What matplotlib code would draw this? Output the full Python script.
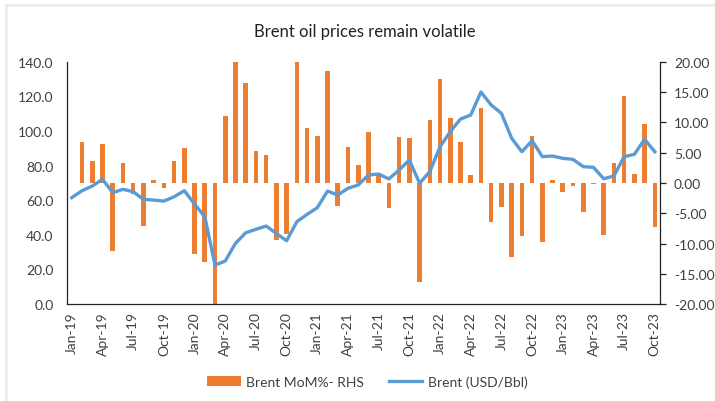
import matplotlib
matplotlib.use("Agg")
import matplotlib.pyplot as plt
from matplotlib.lines import Line2D
from matplotlib.patches import Patch

plt.rcParams['font.family'] = ['Lato', 'DejaVu Sans']

months = ["Jan", "Feb", "Mar", "Apr", "May", "Jun", "Jul", "Aug", "Sep", "Oct", "Nov", "Dec"]
categories = [f"{m}-{y}" for y in range(19, 24) for m in months][:58]

brent_mom = [0, 6.7, 3.6, 6.5, -11.3, 3.3, -1.9, -7.1, 0.5, -0.8,
             3.6, 5.7, -11.7, -13.0, -20.0, 11.1, 20.0, 16.5, 5.3, 4.6,
             -9.4, -8.4, 20.0, 9.0, 7.8, 18.4, -3.8, 5.9, 3.0, 8.4,
             1.6, -4.2, 7.6, 7.4, -16.3, 10.3, 17.2, 10.7, 6.8, 1.3,
             12.4, -6.5, -4.0, -12.3, -8.8, 7.8, -9.8, 0.5, -1.5, -0.5,
             -4.8, -0.2, -8.6, 3.3, 14.3, 1.5, 9.7, -7.2]

brent_usd = [61.5, 65.5, 68.2, 72.1, 64.4, 66.3, 64.9, 60.5, 60.1, 59.5,
             62.0, 65.5, 57.8, 50.5, 22.5, 24.9, 35.1, 41.2, 43.2, 45.1,
             40.8, 36.6, 47.6, 51.8, 55.7, 65.3, 63.0, 66.9, 68.8, 74.6,
             75.1, 72.3, 77.5, 83.2, 69.8, 76.5, 90.9, 99.6, 106.9, 109.2,
             122.5, 115.0, 110.2, 95.8, 88.0, 94.4, 85.2, 85.5, 84.2, 83.6,
             79.4, 79.0, 72.4, 74.0, 85.2, 86.5, 95.2, 88.0]

left_ticks = [0, 20, 40, 60, 80, 100, 120, 140]
right_ticks = [-20, -15, -10, -5, 0, 5, 10, 15, 20]

title = "Brent oil prices remain volatile"
bar_label = "Brent MoM%- RHS"
line_label = "Brent (USD/Bbl)"

ORANGE = "#ED7D31"
BLUE = "#5B9BD5"
TXT = "#404040"

fig = plt.figure(figsize=(7.15, 4.02), dpi=100)
ax = fig.add_axes([0.0933, 0.241, 0.8297, 0.603])
ax2 = ax.twinx()
ax.set_zorder(ax2.get_zorder() + 1)
ax.patch.set_visible(False)

x = list(range(len(categories)))
ax2.bar(x, brent_mom, width=0.45, color=ORANGE, zorder=2)
ax.plot(x, brent_usd, color=BLUE, lw=2.4, solid_joinstyle='round', zorder=3)

ax.set_xlim(-0.5, len(categories) - 0.5)
ax.set_ylim(0, 140)
ax2.set_ylim(-20, 20)

ax.set_yticks(left_ticks)
ax.set_yticklabels([f"{v:.1f}" for v in left_ticks])
ax2.set_yticks(right_ticks)
ax2.set_yticklabels([f"{v:.2f}" for v in right_ticks])

ax.set_xticks(x[::3])
ax.set_xticklabels(categories[::3], rotation=90)

for a in (ax, ax2):
    for s in a.spines.values():
        s.set_visible(False)
ax.spines['left'].set_visible(True)
ax.spines['bottom'].set_visible(True)
ax2.spines['right'].set_visible(True)
for a, side in ((ax, 'left'), (ax, 'bottom'), (ax2, 'right')):
    a.spines[side].set_color('#222222')
    a.spines[side].set_linewidth(0.9)

ax.tick_params(axis='y', length=0, pad=9.5, labelsize=10, labelcolor=TXT)
ax.tick_params(axis='x', length=0, pad=5, labelsize=10, labelcolor=TXT)
ax2.tick_params(axis='y', length=4, width=0.9, color='#222222', direction='out',
                pad=6, labelsize=10, labelcolor=TXT)

fig.text(0.51, 0.921, title, ha='center', va='center', fontsize=12, color='#222222')

handles = [Patch(facecolor=ORANGE, edgecolor='none'),
           Line2D([0], [0], color=BLUE, lw=2.4)]
fig.legend(handles, [bar_label, line_label], loc='center', bbox_to_anchor=(0.514, 0.048),
           ncol=2, frameon=False, fontsize=10, handlelength=2.4, handleheight=0.7,
           columnspacing=1.8, handletextpad=0.4, labelcolor=TXT)

# faint chart border shadow
fig.add_artist(Line2D([0.008, 0.008], [0, 0.985], transform=fig.transFigure, color='#ececec', lw=2))
fig.add_artist(Line2D([0.008, 1], [0.985, 0.985], transform=fig.transFigure, color='#ececec', lw=2))

fig.savefig("out.png", dpi=100)
